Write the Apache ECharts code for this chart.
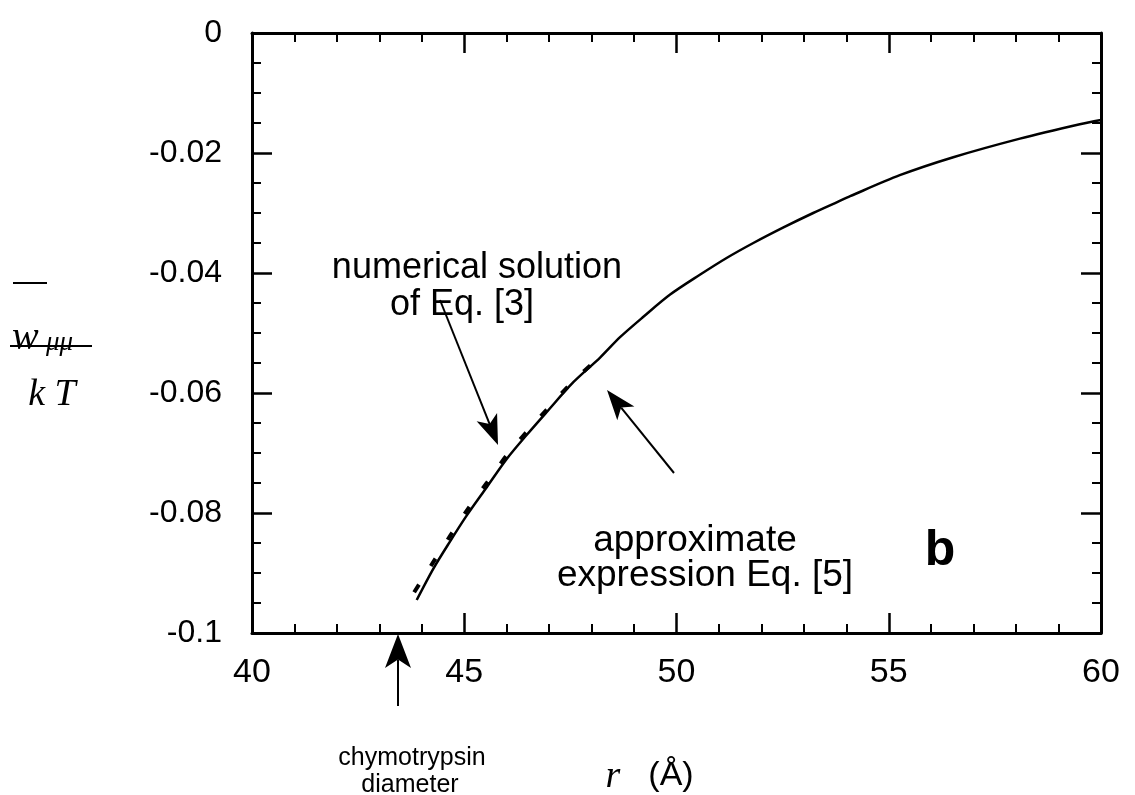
<!DOCTYPE html>
<html>
<head>
<meta charset="utf-8">
<title>w_mumu / kT vs r</title>
<script src="https://cdn.jsdelivr.net/npm/echarts@6.0.0/dist/echarts.min.js"></script>
<style>
  html, body { margin: 0; padding: 0; background: #fff; }
  #main { width: 1135px; height: 795px; }
</style>
</head>
<body>
<div id="main"></div>
<script>
// approximate expression Eq. [5] (solid line)
var rApprox = [43.88, 44.27, 44.66, 45.06, 45.53, 46.0, 46.47, 46.94, 47.57, 48.2, 48.67, 49.22,
  49.85, 50.55, 51.18, 51.81, 52.52, 53.22, 53.81, 54.09, 55.26, 56.52, 58.09, 59.5, 60.0];
var wApprox = [-0.0945, -0.0893, -0.0848, -0.0804, -0.0757, -0.071, -0.067, -0.0632, -0.0582, -0.0541, -0.0507, -0.0473,
  -0.0436, -0.0403, -0.0375, -0.035, -0.0324, -0.03, -0.0281, -0.0272, -0.0237, -0.0207, -0.0176, -0.0152, -0.0145];

// numerical solution of Eq. [3] (dashed line)
var rNumer = [43.82, 44.27, 44.66, 45.06, 45.53, 46.0, 46.47, 46.94, 47.57, 48.2];
var wNumer = [-0.0932, -0.0882, -0.0839, -0.0796, -0.0750, -0.0704, -0.0665, -0.0628, -0.058, -0.054];

var xTickLabels = ['40', '45', '50', '55', '60'];
var yTickLabels = ['-0.1', '-0.08', '-0.06', '-0.04', '-0.02', '0'];

function pairs(xs, ys) {
  return xs.map(function (x, i) { return [x, ys[i]]; });
}

var SANS = 'Liberation Sans, Arial, Helvetica, sans-serif';
var SERIF = 'Liberation Serif, Times New Roman, serif';

// arrow: shaft + barbed head, tip at (x2, y2)
function arrow(x1, y1, x2, y2, len, wid) {
  var a = Math.atan2(y2 - y1, x2 - x1);
  var c = Math.cos(a), s = Math.sin(a);
  var bx = x2 - c * len, by = y2 - s * len;
  var nx = x2 - c * len * 0.75, ny = y2 - s * len * 0.75;
  return {
    type: 'group',
    children: [
      { type: 'line', shape: { x1: x1, y1: y1, x2: nx, y2: ny }, style: { stroke: '#000', lineWidth: 2 } },
      {
        type: 'polygon',
        shape: { points: [[x2, y2], [bx - s * wid / 2, by + c * wid / 2], [nx, ny], [bx + s * wid / 2, by - c * wid / 2]] },
        style: { fill: '#000' }
      }
    ]
  };
}

function txt(t, x, y, size, align, extra) {
  var st = { text: t, x: x, y: y, fill: '#000', fontSize: size, fontFamily: SANS,
    align: align, verticalAlign: 'alphabetic', textAlign: align, textVerticalAlign: 'alphabetic' };
  for (var k in extra) st[k] = extra[k];
  return { type: 'text', style: st, z: 10 };
}

var tickFmtX = function (v) { return xTickLabels[Math.round((v - 40) / 5)]; };
var tickFmtY = function (v) { return yTickLabels[Math.round((v + 0.1) / 0.02)]; };

function xAxisCfg(pos, showLabel) {
  return {
    type: 'value', position: pos, min: 40, max: 60, interval: 5,
    axisLine: { onZero: false, lineStyle: { color: '#000', width: 3 } },
    axisTick: { inside: true, length: 20, lineStyle: { color: '#000', width: 2.5 } },
    minorTick: { show: true, splitNumber: 5, length: 9, lineStyle: { color: '#000', width: 2 } },
    splitLine: { show: false },
    axisLabel: { show: showLabel, formatter: tickFmtX, color: '#000', fontSize: 34, fontFamily: SANS, margin: 23 }
  };
}
function yAxisCfg(pos, showLabel) {
  return {
    type: 'value', position: pos, min: -0.1, max: 0, interval: 0.02,
    axisLine: { onZero: false, lineStyle: { color: '#000', width: 3 } },
    axisTick: { inside: true, length: 20, lineStyle: { color: '#000', width: 2.5 } },
    minorTick: { show: true, splitNumber: 4, length: 9, lineStyle: { color: '#000', width: 2 } },
    splitLine: { show: false },
    axisLabel: { show: showLabel, formatter: tickFmtY, color: '#000', fontSize: 32, fontFamily: SANS, margin: 30 }
  };
}

var chart = echarts.init(document.getElementById('main'), null, { renderer: 'canvas' });
chart.setOption({
  animation: false,
  backgroundColor: '#fff',
  grid: { left: 252, right: 34, top: 33, bottom: 162 },
  xAxis: [xAxisCfg('bottom', true), xAxisCfg('top', false)],
  yAxis: [yAxisCfg('left', true), yAxisCfg('right', false)],
  series: [
    {
      name: 'approximate expression Eq. [5]', type: 'line', smooth: 0.3, showSymbol: false,
      data: pairs(rApprox, wApprox),
      lineStyle: { color: '#000', width: 2.5 }
    },
    {
      name: 'numerical solution of Eq. [3]', type: 'line', smooth: 0.3, showSymbol: false,
      data: pairs(rNumer, wNumer),
      lineStyle: { color: '#000', width: 4, type: [9, 22] }
    }
  ],
  graphic: [
    // y-axis title: w-bar_mu-mu over kT
    { type: 'line', shape: { x1: 13, y1: 283, x2: 47, y2: 283 }, style: { stroke: '#000', lineWidth: 2 } },
    txt('w', 12, 318, 40, 'left', { fontFamily: SERIF, fontStyle: 'italic' }),
    txt('\u03bc\u03bc', 46, 329, 27, 'left', { fontFamily: SERIF, fontStyle: 'italic' }),
    { type: 'line', shape: { x1: 10, y1: 346, x2: 92, y2: 346 }, style: { stroke: '#000', lineWidth: 2 } },
    txt('k T', 52, 376, 38, 'center', { fontFamily: SERIF, fontStyle: 'italic' }),

    // x-axis title
    txt('r', 613, 758, 38, 'center', { fontFamily: SERIF, fontStyle: 'italic' }),
    txt('(\u00c5)', 671, 759, 34, 'center'),

    // chymotrypsin diameter marker
    arrow(398, 706, 398, 634, 34, 26),
    txt('chymotrypsin', 412, 746, 25, 'center'),
    txt('diameter', 410, 773, 25, 'center'),

    // numerical solution annotation
    txt('numerical solution', 622, 250, 36, 'right'),
    txt('of Eq. [3]', 462, 287, 36, 'center'),
    arrow(440, 300, 498, 445, 30, 22),

    // approximate expression annotation
    txt('approximate', 695, 522, 37, 'center'),
    txt('expression Eq. [5]', 705, 557, 37, 'center'),
    arrow(674, 473, 607, 390, 30, 22),

    // panel label
    txt('b', 940, 526, 50, 'center', { fontWeight: 'bold' })
  ]
});
</script>
</body>
</html>
